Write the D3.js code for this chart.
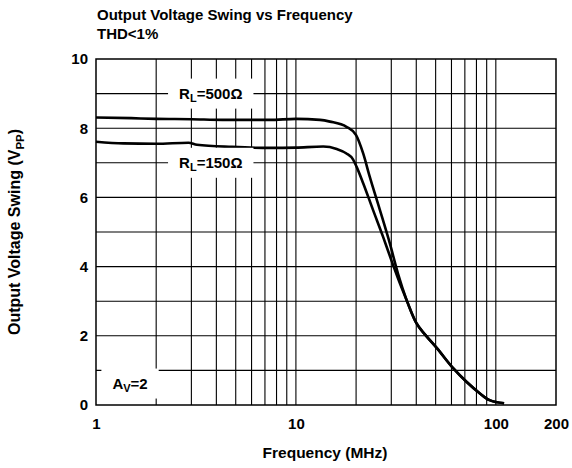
<!DOCTYPE html>
<html>
<head>
<meta charset="utf-8">
<script src="https://cdn.jsdelivr.net/npm/d3@7"></script>
<style>
  html, body { margin: 0; padding: 0; background: #fff; }
  svg { display: block; }
  text { font-family: "Liberation Sans", Arial, Helvetica, sans-serif; font-weight: bold; fill: #000; }
</style>
</head>
<body>
<svg id="chart" width="572" height="468"></svg>
<script>
// ---- data ----
const freq500 = [1, 1.5, 2, 3, 4.3, 7.4, 10, 13.2, 14.8, 17.9, 20, 21.7, 23.4, 26.3, 29.5, 32.4, 35.8, 40, 44.5, 50.6, 61, 71.3, 83, 93, 110];
const vpp500  = [8.31, 8.29, 8.27, 8.26, 8.24, 8.24, 8.27, 8.24, 8.19, 8.04, 7.80, 7.27, 6.60, 5.64, 4.67, 3.80, 3.03, 2.37, 2.02, 1.65, 1.07, 0.67, 0.34, 0.14, 0.05];
const freq150 = [1, 1.37, 2, 2.9, 3.2, 4.8, 7.4, 10, 13.7, 16, 17.9, 19.3, 20.1, 21.7, 24.3, 27.3, 30.6, 32.4, 35.8, 40, 44.5, 50.6, 61, 71.3, 83, 93, 110];
const vpp150  = [7.61, 7.56, 7.55, 7.58, 7.52, 7.46, 7.43, 7.44, 7.47, 7.40, 7.27, 7.10, 6.89, 6.41, 5.64, 4.86, 4.05, 3.66, 3.03, 2.37, 2.02, 1.65, 1.07, 0.67, 0.34, 0.14, 0.05];
const xGrid = [2, 3, 4, 5, 6, 7, 8, 9, 10, 20, 30, 40, 50, 60, 70, 80, 90, 100];
const yGrid = [1, 2, 3, 4, 5, 6, 7, 8, 9];
const xTickLabels = [1, 10, 100, 200];
const yTickLabels = [0, 2, 4, 6, 8, 10];
const titleLines = ["Output Voltage Swing vs Frequency", "THD<1%"];
const xTitle = "Frequency (MHz)";
// annotations: [main, subscript, rest, freq, value]
const annotations = [
  ["R", "L", "=500\u03A9", 3.75, 9],
  ["R", "L", "=150\u03A9", 3.75, 7],
  ["A", "V", "=2", 1.48, 0.62]
];

// ---- layout ----
const svg = d3.select("#chart");
const pL = 96, pR = 556, pT = 59, pB = 405;
const x = d3.scaleLog().domain([1, 200]).range([pL, pR]);
const y = d3.scaleLinear().domain([0, 10]).range([pB, pT]);

// gridlines
const g = svg.append("g");
g.selectAll("line.v").data(xGrid).join("line")
  .attr("x1", d => x(d)).attr("x2", d => x(d))
  .attr("y1", pT).attr("y2", pB)
  .attr("stroke", "#000").attr("stroke-width", 1.1);
g.selectAll("line.h").data(yGrid).join("line")
  .attr("x1", pL).attr("x2", pR)
  .attr("y1", d => y(d)).attr("y2", d => y(d))
  .attr("stroke", "#000").attr("stroke-width", 1.1);
// frame
svg.append("rect").attr("x", pL).attr("y", pT)
  .attr("width", pR - pL).attr("height", pB - pT)
  .attr("fill", "none").attr("stroke", "#000").attr("stroke-width", 1.5);

// axes (labels only)
const xAxis = svg.append("g").attr("transform", `translate(0,${pB})`)
  .call(d3.axisBottom(x).tickValues(xTickLabels).tickFormat(d3.format("d")).tickSize(0).tickPadding(13));
xAxis.select(".domain").remove();
xAxis.selectAll("text").attr("font-size", 15).attr("font-family", null).attr("fill", "#000");

const yAxis = svg.append("g").attr("transform", `translate(${pL},0)`)
  .call(d3.axisLeft(y).tickValues(yTickLabels).tickFormat(d3.format("d")).tickSize(0).tickPadding(8));
yAxis.select(".domain").remove();
yAxis.selectAll("text").attr("font-size", 15).attr("font-family", null).attr("fill", "#000");

// curves
const line = d3.line().x(d => x(d[0])).y(d => y(d[1])).curve(d3.curveMonotoneX);
svg.append("path").datum(freq500.map((f, i) => [f, vpp500[i]]))
  .attr("d", line).attr("fill", "none").attr("stroke", "#000").attr("stroke-width", 2.6);
svg.append("path").datum(freq150.map((f, i) => [f, vpp150[i]]))
  .attr("d", line).attr("fill", "none").attr("stroke", "#000").attr("stroke-width", 2.6);

// annotations with white boxes
annotations.forEach(a => {
  const cx = x(a[3]), cy = y(a[4]);
  const grp = svg.append("g");
  const rect = grp.append("rect").attr("fill", "#fff");
  const t = grp.append("text").attr("x", cx).attr("y", cy + 5)
    .attr("text-anchor", "middle").attr("font-size", 15);
  t.append("tspan").text(a[0]);
  t.append("tspan").attr("font-size", 11).attr("dy", 3.5).text(a[1]);
  t.append("tspan").attr("dy", -3.5).text(a[2]);
  const bb = t.node().getBBox();
  rect.attr("x", bb.x - 11).attr("y", cy - 15).attr("width", bb.width + 22).attr("height", 30);
});

// title
svg.append("g").selectAll("text").data(titleLines).join("text")
  .attr("x", 97).attr("y", (d, i) => 20 + i * 18.5)
  .attr("font-size", 15).text(d => d);

// axis titles
svg.append("text").attr("x", (pL + pR) / 2 - 1).attr("y", 458)
  .attr("text-anchor", "middle").attr("font-size", 15.5).text(xTitle);

const yt = svg.append("text").attr("transform", `translate(20,${(pT + pB) / 2}) rotate(-90)`)
  .attr("text-anchor", "middle").attr("font-size", 16);
yt.append("tspan").text("Output Voltage Swing (V");
yt.append("tspan").attr("font-size", 11.5).attr("dy", 3.5).text("PP");
yt.append("tspan").attr("dy", -3.5).text(")");
</script>
</body>
</html>
